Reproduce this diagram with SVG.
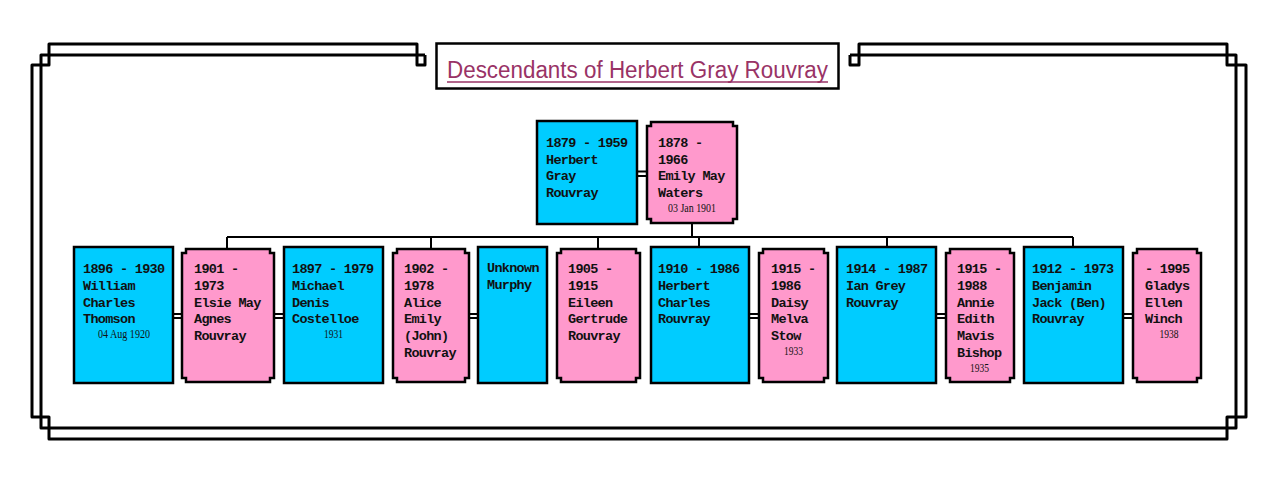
<svg xmlns="http://www.w3.org/2000/svg" width="1275" height="478" viewBox="0 0 1275 478">
<style>
.frame{fill:none;stroke:#000;stroke-width:3;stroke-linejoin:round}
.blue{fill:#00CCFF;stroke:#000;stroke-width:2.5}
.pink{fill:#FF99CC;stroke:#000;stroke-width:2.5}
.ln{fill:none;stroke:#000;stroke-width:2}
.t{font-family:"Liberation Mono","Courier New",monospace;font-weight:bold;font-size:13.5px;letter-spacing:-0.7px;fill:#111}
.dt{font-family:"Liberation Serif","Times New Roman",serif;font-size:12px;text-anchor:middle;fill:#111}
.title{font-family:"Liberation Sans",Arial,sans-serif;font-size:23px;fill:#993366}
</style>
<rect x="0" y="0" width="1275" height="478" fill="#fff"/>
<g id="frame">
<path class="frame" d="M425,55 V65 H417 V44 H49 V65 H32 V417 H49 V439 H1227 V417 H1246 V65 H1227 V44 H859 V65 H850 V55"/>
<path class="frame" d="M425,55 H41 V428 H1236 V55 H850"/>
</g>
<g id="title">
<rect x="436.5" y="43.5" width="402" height="45" fill="#fff" stroke="#000" stroke-width="2.5"/>
<text class="title" x="447" y="78" textLength="381" lengthAdjust="spacingAndGlyphs">Descendants of Herbert Gray Rouvray</text>
<line x1="447" y1="82" x2="828" y2="82" stroke="#993366" stroke-width="1.3"/>
</g>
<g id="connectors">
<path class="ln" d="M637,171.5 H647 M637,176 H647"/>
<path class="ln" d="M692,223 V237 M227,237 H1073 M227,237 V249 M431,237 V249 M598,237 V249 M699,237 V247 M887,237 V247 M1073,237 V247"/>
<path class="ln" d="M173,314 H182 M173,318 H182 M274,314 H284 M274,318 H284 M469,314 H478 M469,318 H478 M749,314 H759 M749,318 H759 M936,314 H946 M936,318 H946 M1123,314 H1133 M1123,318 H1133"/>
</g>
<g id="n-herbert">
<rect class="blue" x="537" y="121" width="100" height="103"/>
<text class="t"><tspan x="546" y="147">1879 - 1959</tspan><tspan x="546" y="163.7">Herbert</tspan><tspan x="546" y="180.4">Gray</tspan><tspan x="546" y="197">Rouvray</tspan></text>
</g>
<g id="n-emily">
<path class="pink" d="M651,122 H733 V126 H737 V219 H733 V223 H651 V219 H647 V126 H651 Z"/>
<text class="t"><tspan x="658" y="147">1878 -</tspan><tspan x="658" y="163.7">1966</tspan><tspan x="658" y="180.4">Emily May</tspan><tspan x="658" y="197">Waters</tspan></text>
<text class="dt" x="692" y="212" textLength="48" lengthAdjust="spacingAndGlyphs">03 Jan 1901</text>
</g>
<g id="n-william">
<rect class="blue" x="74" y="247" width="99" height="136"/>
<text class="t"><tspan x="83" y="273">1896 - 1930</tspan><tspan x="83" y="289.8">William</tspan><tspan x="83" y="306.6">Charles</tspan><tspan x="83" y="323.4">Thomson</tspan></text>
<text class="dt" x="124" y="338" textLength="52" lengthAdjust="spacingAndGlyphs">04 Aug 1920</text>
</g>
<g id="n-elsie">
<path class="pink" d="M186,249 H270 V253 H274 V378 H270 V382 H186 V378 H182 V253 H186 Z"/>
<text class="t"><tspan x="194" y="273">1901 -</tspan><tspan x="194" y="289.8">1973</tspan><tspan x="194" y="306.6">Elsie May</tspan><tspan x="194" y="323.4">Agnes</tspan><tspan x="194" y="340.2">Rouvray</tspan></text>
</g>
<g id="n-michael">
<rect class="blue" x="284" y="247" width="99" height="136"/>
<text class="t"><tspan x="292" y="273">1897 - 1979</tspan><tspan x="292" y="289.8">Michael</tspan><tspan x="292" y="306.6">Denis</tspan><tspan x="292" y="323.4">Costelloe</tspan></text>
<text class="dt" x="333.5" y="338" textLength="19" lengthAdjust="spacingAndGlyphs">1931</text>
</g>
<g id="n-alice">
<path class="pink" d="M397,249 H465 V253 H469 V378 H465 V382 H397 V378 H393 V253 H397 Z"/>
<text class="t"><tspan x="404" y="273">1902 -</tspan><tspan x="404" y="289.8">1978</tspan><tspan x="404" y="306.6">Alice</tspan><tspan x="404" y="323.4">Emily</tspan><tspan x="404" y="340.2">(John)</tspan><tspan x="404" y="357">Rouvray</tspan></text>
</g>
<g id="n-murphy">
<rect class="blue" x="478" y="247" width="69" height="136"/>
<text class="t"><tspan x="487" y="272">Unknown</tspan><tspan x="487" y="288.8">Murphy</tspan></text>
</g>
<g id="n-eileen">
<path class="pink" d="M561,249 H636 V253 H640 V378 H636 V382 H561 V378 H557 V253 H561 Z"/>
<text class="t"><tspan x="568" y="273">1905 -</tspan><tspan x="568" y="289.8">1915</tspan><tspan x="568" y="306.6">Eileen</tspan><tspan x="568" y="323.4">Gertrude</tspan><tspan x="568" y="340.2">Rouvray</tspan></text>
</g>
<g id="n-herbert-charles">
<rect class="blue" x="651" y="247" width="98" height="136"/>
<text class="t"><tspan x="658" y="273">1910 - 1986</tspan><tspan x="658" y="289.8">Herbert</tspan><tspan x="658" y="306.6">Charles</tspan><tspan x="658" y="323.4">Rouvray</tspan></text>
</g>
<g id="n-daisy">
<path class="pink" d="M763,249 H824 V253 H828 V378 H824 V382 H763 V378 H759 V253 H763 Z"/>
<text class="t"><tspan x="771" y="273">1915 -</tspan><tspan x="771" y="289.8">1986</tspan><tspan x="771" y="306.6">Daisy</tspan><tspan x="771" y="323.4">Melva</tspan><tspan x="771" y="340.2">Stow</tspan></text>
<text class="dt" x="793.5" y="355" textLength="19" lengthAdjust="spacingAndGlyphs">1933</text>
</g>
<g id="n-ian">
<rect class="blue" x="837" y="247" width="99" height="136"/>
<text class="t"><tspan x="846" y="273">1914 - 1987</tspan><tspan x="846" y="289.8">Ian Grey</tspan><tspan x="846" y="306.6">Rouvray</tspan></text>
</g>
<g id="n-annie">
<path class="pink" d="M950,249 H1010 V253 H1014 V378 H1010 V382 H950 V378 H946 V253 H950 Z"/>
<text class="t"><tspan x="957" y="273">1915 -</tspan><tspan x="957" y="289.8">1988</tspan><tspan x="957" y="306.6">Annie</tspan><tspan x="957" y="323.4">Edith</tspan><tspan x="957" y="340.2">Mavis</tspan><tspan x="957" y="357">Bishop</tspan></text>
<text class="dt" x="979.5" y="372" textLength="19" lengthAdjust="spacingAndGlyphs">1935</text>
</g>
<g id="n-benjamin">
<rect class="blue" x="1024" y="247" width="99" height="136"/>
<text class="t"><tspan x="1032" y="273">1912 - 1973</tspan><tspan x="1032" y="289.8">Benjamin</tspan><tspan x="1032" y="306.6">Jack (Ben)</tspan><tspan x="1032" y="323.4">Rouvray</tspan></text>
</g>
<g id="n-gladys">
<path class="pink" d="M1137,249 H1197 V253 H1201 V378 H1197 V382 H1137 V378 H1133 V253 H1137 Z"/>
<text class="t"><tspan x="1145" y="273">- 1995</tspan><tspan x="1145" y="289.8">Gladys</tspan><tspan x="1145" y="306.6">Ellen</tspan><tspan x="1145" y="323.4">Winch</tspan></text>
<text class="dt" x="1169" y="338" textLength="19" lengthAdjust="spacingAndGlyphs">1938</text>
</g>
</svg>
